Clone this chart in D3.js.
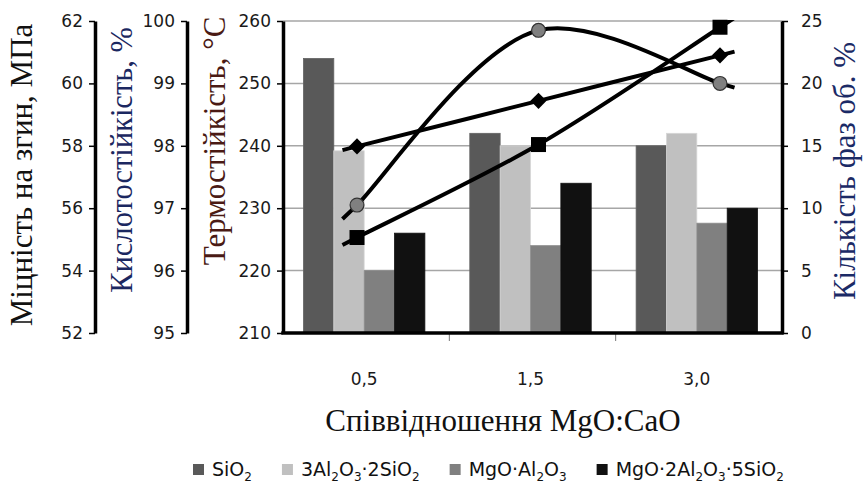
<!DOCTYPE html>
<html>
<head>
<meta charset="utf-8">
<script src="https://cdn.jsdelivr.net/npm/d3@7"></script>
<style>
  body { margin: 0; background: #fff; }
</style>
</head>
<body>
<svg id="chart" width="864" height="486"></svg>
<script>
// ---------------------------------------------------------------
// data
const categories = ['0,5', '1,5', '3,0']

// phases, vol. % (right axis, bars)
const phaseLabels = ['SiO_2', '3Al_2O_3·2SiO_2', 'MgO·Al_2O_3', 'MgO·2Al_2O_3·5SiO_2']
const phaseColors = ['#595959', '#c0c0c0', '#808080', '#111111']
const sio2 = [22, 16, 15]
const mullite = [14.6, 15, 16]
const spinel = [5, 7, 8.8]
const cordierite = [8, 12, 10]

// properties (left axes, lines)
const strength = [56.1, 61.7, 60.0]      // МПа
const acidRes = [97.99, 98.72, 99.45]    // %
const thermalRes = [225.3, 240.2, 259.0] // °C

const strengthTicks = [52, 54, 56, 58, 60, 62]
const acidTicks = [95, 96, 97, 98, 99, 100]
const thermalTicks = [210, 220, 230, 240, 250, 260]
const phaseTicks = [0, 5, 10, 15, 20, 25]

// ---------------------------------------------------------------
const SANS = '"DejaVu Sans", sans-serif'
const SERIF = '"Liberation Serif", "DejaVu Serif", serif'

const svg = d3.select('#chart')
const plot = { left: 283, right: 782, top: 21, bottom: 333 }

const yPhase = d3.scaleLinear().domain([0, 25]).range([plot.bottom, plot.top])
const yStrength = d3.scaleLinear().domain([52, 62]).range([plot.bottom, plot.top])
const yAcid = d3.scaleLinear().domain([95, 100]).range([plot.bottom, plot.top])
const yThermal = d3.scaleLinear().domain([210, 260]).range([plot.bottom, plot.top])

const xBand = d3.scaleBand()
    .domain(categories)
    .range([plot.left - 2, plot.right - 2])
    .paddingInner(0.27)
    .paddingOuter(0.135)

const xSeries = d3.scaleBand()
    .domain(d3.range(phaseLabels.length))
    .range([0, xBand.bandwidth()])

const xLine = d3.scalePoint()
    .domain(categories)
    .range([plot.left + 74, plot.right - 62])

// ---------------------------------------------------------------
// gridlines
svg.append('g')
    .selectAll('line')
    .data(phaseTicks.slice(1))
    .join('line')
    .attr('x1', plot.left)
    .attr('x2', plot.right)
    .attr('y1', d => yPhase(d))
    .attr('y2', d => yPhase(d))
    .attr('stroke', '#a6a6a6')
    .attr('stroke-width', 1.5)

// ---------------------------------------------------------------
// bars
const phaseSeries = [sio2, mullite, spinel, cordierite]
const barData = []
phaseSeries.forEach((vals, s) => {
    vals.forEach((v, i) => barData.push({ cat: categories[i], s: s, v: v }))
})

svg.append('g')
    .selectAll('rect')
    .data(barData)
    .join('rect')
    .attr('x', d => xBand(d.cat) + xSeries(d.s))
    .attr('y', d => yPhase(d.v))
    .attr('width', xSeries.bandwidth())
    .attr('height', d => yPhase(0) - yPhase(d.v))
    .attr('fill', d => phaseColors[d.s])
    .attr('stroke', d => d3.rgb(phaseColors[d.s]).brighter(0.3))
    .attr('stroke-width', 0.8)

// ---------------------------------------------------------------
// axes
function styleAxis(g) {
    g.attr('font-family', SANS).attr('font-size', 17)
    g.select('.domain').attr('stroke', '#000').attr('stroke-width', 3.5)
    g.selectAll('.tick line').attr('stroke', '#000').attr('stroke-width', 1.5)
    g.selectAll('.tick text').attr('fill', '#1a1a1a')
}

const leftAxes = [
    { scale: yStrength, ticks: strengthTicks, x: 95 },
    { scale: yAcid, ticks: acidTicks, x: 187 },
    { scale: yThermal, ticks: thermalTicks, x: plot.left }
]
leftAxes.forEach(a => {
    svg.append('g')
        .attr('transform', `translate(${a.x},0)`)
        .call(d3.axisLeft(a.scale)
            .tickValues(a.ticks)
            .tickFormat(d3.format('d'))
            .tickSize(6).tickSizeOuter(0).tickPadding(6))
        .call(styleAxis)
})

svg.append('g')
    .attr('transform', `translate(${plot.right},0)`)
    .call(d3.axisRight(yPhase).tickValues(phaseTicks).tickSize(6).tickSizeOuter(0).tickPadding(13))
    .call(styleAxis)

// category axis
const xAxis = svg.append('g')
xAxis.selectAll('line.tick')
    .data(d3.range(1, categories.length))
    .join('line')
    .attr('x1', i => plot.left + i * (plot.right - plot.left) / categories.length)
    .attr('x2', i => plot.left + i * (plot.right - plot.left) / categories.length)
    .attr('y1', plot.bottom)
    .attr('y2', plot.bottom + 8)
    .attr('stroke', '#777')
    .attr('stroke-width', 1)
xAxis.append('line')
    .attr('x1', plot.left - 1.75)
    .attr('x2', plot.right + 1.75)
    .attr('y1', plot.bottom)
    .attr('y2', plot.bottom)
    .attr('stroke', '#000')
    .attr('stroke-width', 3.5)
xAxis.selectAll('text')
    .data(categories)
    .join('text')
    .attr('x', d => xBand(d) + xBand.bandwidth() / 2)
    .attr('y', 385)
    .attr('text-anchor', 'middle')
    .attr('font-family', SANS)
    .attr('font-size', 17)
    .attr('fill', '#1a1a1a')
    .text(d => d)

// ---------------------------------------------------------------
// lines (trend curves slightly extended past the end points)
const lineDefs = [
    { vals: strength, y: yStrength, marker: 'circle' },
    { vals: acidRes, y: yAcid, marker: 'diamond' },
    { vals: thermalRes, y: yThermal, marker: 'square' }
]

svg.append('clipPath').attr('id', 'plot-clip')
    .append('rect')
    .attr('x', plot.left).attr('y', plot.top - 1)
    .attr('width', plot.right - plot.left).attr('height', plot.bottom - plot.top)

const curve = d3.line().curve(d3.curveCatmullRom.alpha(0.5))
const ext = 0.08

lineDefs.forEach(def => {
    const pts = def.vals.map((v, i) => [xLine(categories[i]), def.y(v)])
    const n = pts.length
    const first = [pts[0][0] + (pts[0][0] - pts[1][0]) * ext, pts[0][1] + (pts[0][1] - pts[1][1]) * ext]
    const last = [pts[n - 1][0] + (pts[n - 1][0] - pts[n - 2][0]) * ext, pts[n - 1][1] + (pts[n - 1][1] - pts[n - 2][1]) * ext]

    svg.append('path')
        .attr('d', curve([first, ...pts, last]))
        .attr('fill', 'none')
        .attr('stroke', '#000')
        .attr('stroke-width', 4)
        .attr('clip-path', 'url(#plot-clip)')

    const m = svg.append('g')
        .selectAll('path')
        .data(pts)
        .join('path')
        .attr('transform', p => `translate(${p[0]},${p[1]})` + (def.marker === 'diamond' ? 'rotate(45)' : ''))

    if (def.marker === 'circle') {
        m.attr('d', d3.symbol(d3.symbolCircle, 150)())
            .attr('fill', '#808080')
            .attr('stroke', '#333')
            .attr('stroke-width', 1.2)
    } else if (def.marker === 'diamond') {
        m.attr('d', d3.symbol(d3.symbolSquare, 130)()).attr('fill', '#000')
    } else {
        m.attr('d', d3.symbol(d3.symbolSquare, 225)()).attr('fill', '#000')
    }
})

// ---------------------------------------------------------------
// axis titles
const titles = [
    { text: 'Міцність на згин, МПа', x: 32, y: 175, rot: -90, size: 31, fill: '#111' },
    { text: 'Кислотостійкість, %', x: 132, y: 160, rot: -90, size: 30.5, fill: '#1b2760' },
    { text: 'Термостійкість, °C', x: 225, y: 141, rot: -90, size: 31, fill: '#4a1a14' },
    { text: 'Кількість фаз об. %', x: 855, y: 171, rot: -90, size: 31, fill: '#1b2a66' },
    { text: 'Співвідношення MgO:CaO', x: 503, y: 431, rot: 0, size: 31, fill: '#111' }
]
svg.append('g')
    .selectAll('text')
    .data(titles)
    .join('text')
    .attr('transform', d => `translate(${d.x},${d.y})rotate(${d.rot})`)
    .attr('text-anchor', 'middle')
    .style('font-family', SERIF)
    .style('font-size', d => d.size + 'px')
    .attr('fill', d => d.fill)
    .text(d => d.text)

// ---------------------------------------------------------------
// legend with chemical subscripts
const legend = svg.append('g').attr('id', 'legend').attr('transform', 'translate(193,476)')
const legendGap = 30
let lx = 0
phaseLabels.forEach((label, i) => {
    const item = legend.append('g').attr('transform', `translate(${lx},0)`)
    item.append('rect')
        .attr('x', 0).attr('y', -12)
        .attr('width', 11).attr('height', 11)
        .attr('fill', phaseColors[i])
    const t = item.append('text')
        .attr('x', 19).attr('y', 0)
        .attr('font-family', SANS)
        .attr('font-size', 19)
        .attr('fill', '#111')
    let shifted = false
    label.split(/(_\d)/).filter(s => s.length).forEach(part => {
        if (part[0] === '_') {
            t.append('tspan').attr('font-size', 12).attr('dy', 5).text(part.slice(1))
            shifted = true
        } else {
            t.append('tspan').attr('dy', shifted ? -5 : null).text(part)
            shifted = false
        }
    })
    lx += 19 + t.node().getComputedTextLength() + legendGap
})
</script>
</body>
</html>
